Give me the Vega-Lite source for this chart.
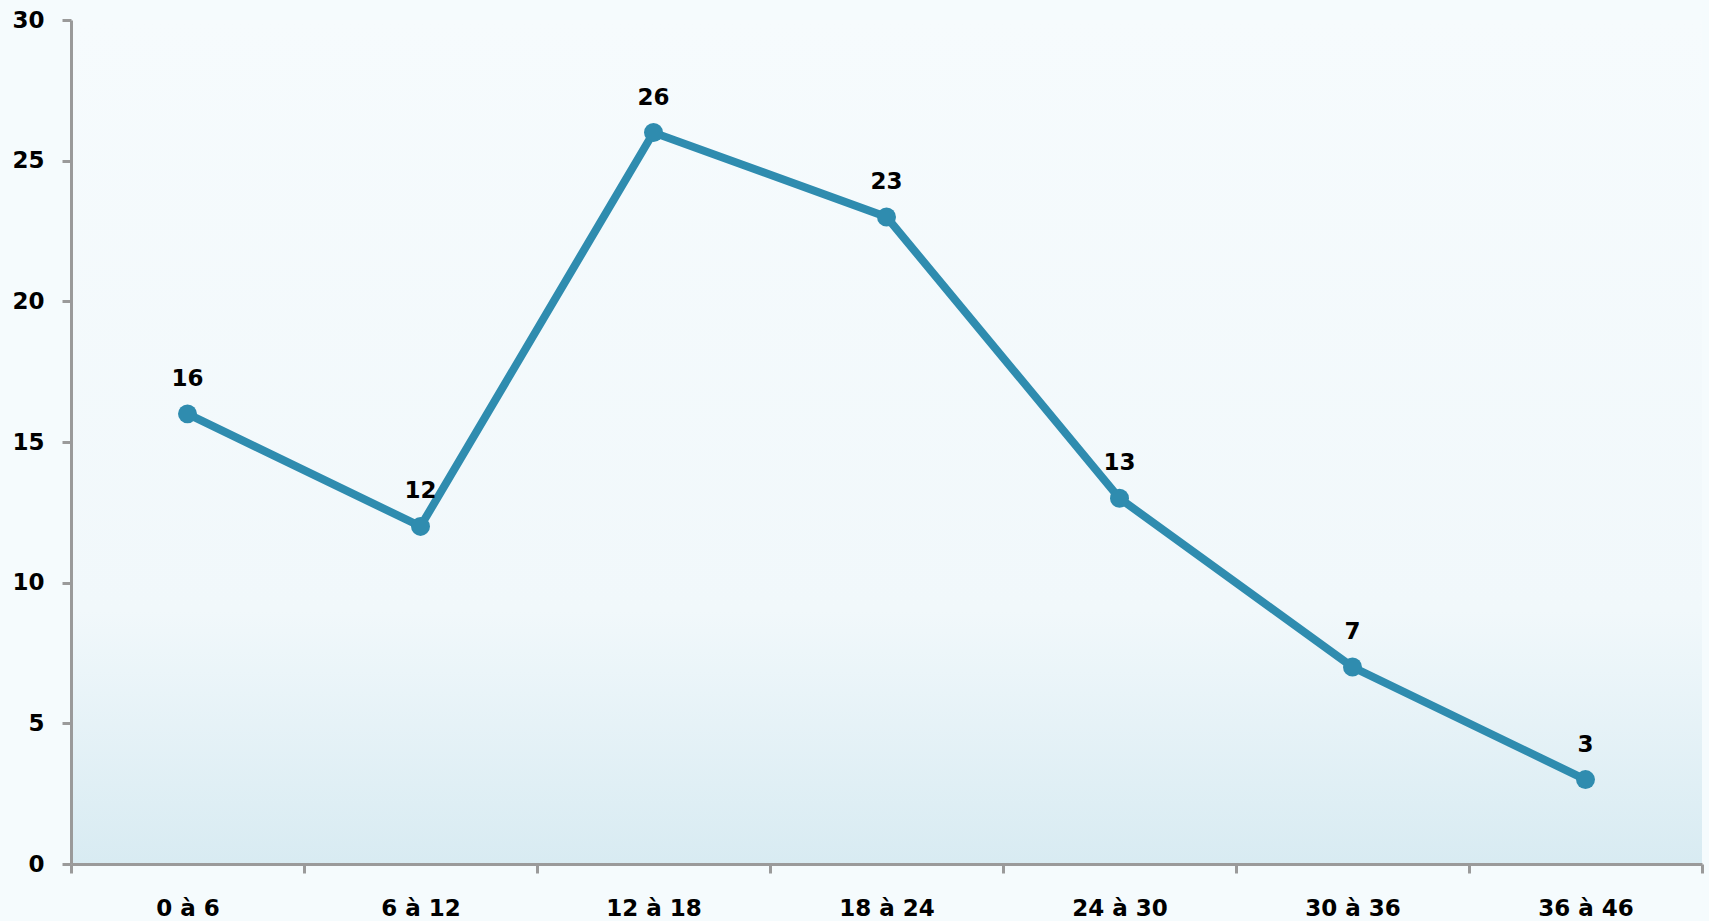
{
  "$schema": "https://vega.github.io/schema/vega-lite/v6.json",
  "width": 1631,
  "height": 844,
  "autosize": {"type": "none"},
  "padding": {"left": 71, "top": 20, "right": 7, "bottom": 57},
  "background": "#f5fbfd",
  "config": {
    "view": {
      "stroke": null,
      "fill": {
        "gradient": "linear",
        "x1": 0, "y1": 0, "x2": 0, "y2": 1,
        "stops": [
          {"offset": 0, "color": "#f6fbfd"},
          {"offset": 0.7, "color": "#f1f8fb"},
          {"offset": 1, "color": "#d8ebf2"}
        ]
      }
    },
    "font": "DejaVu Sans"
  },
  "data": {
    "values": [
      {"classe": "0 à 6", "n": 16},
      {"classe": "6 à 12", "n": 12},
      {"classe": "12 à 18", "n": 26},
      {"classe": "18 à 24", "n": 23},
      {"classe": "24 à 30", "n": 13},
      {"classe": "30 à 36", "n": 7},
      {"classe": "36 à 46", "n": 3}
    ]
  },
  "encoding": {
    "x": {
      "field": "classe",
      "type": "ordinal",
      "sort": null,
      "scale": {"paddingInner": 0, "paddingOuter": 0},
      "axis": {
        "title": null,
        "labelAngle": 0,
        "labelFont": "DejaVu Sans",
        "labelFontSize": 23,
        "labelFontWeight": "bold",
        "labelColor": "#000000",
        "labelPadding": 24,
        "tickBand": "extent",
        "tickColor": "#9a9a9a",
        "tickWidth": 3,
        "tickSize": 9,
        "domainColor": "#9a9a9a",
        "domainWidth": 3,
        "grid": false
      }
    },
    "y": {
      "field": "n",
      "type": "quantitative",
      "scale": {"domain": [0, 30], "nice": false},
      "axis": {
        "title": null,
        "values": [0, 5, 10, 15, 20, 25, 30],
        "labelFont": "DejaVu Sans",
        "labelFontSize": 23,
        "labelFontWeight": "bold",
        "labelColor": "#000000",
        "labelPadding": 18,
        "tickColor": "#9a9a9a",
        "tickWidth": 3,
        "tickSize": 9,
        "domainColor": "#9a9a9a",
        "domainWidth": 3,
        "grid": false
      }
    }
  },
  "layer": [
    {
      "mark": {"type": "line", "color": "#2f8caf", "strokeWidth": 8}
    },
    {
      "mark": {"type": "point", "filled": true, "color": "#2f8caf", "opacity": 1, "size": 360}
    },
    {
      "mark": {"type": "text", "dy": -35, "fontSize": 23, "fontWeight": "bold", "color": "#000000", "font": "DejaVu Sans"},
      "encoding": {"text": {"field": "n", "type": "quantitative"}}
    }
  ]
}
